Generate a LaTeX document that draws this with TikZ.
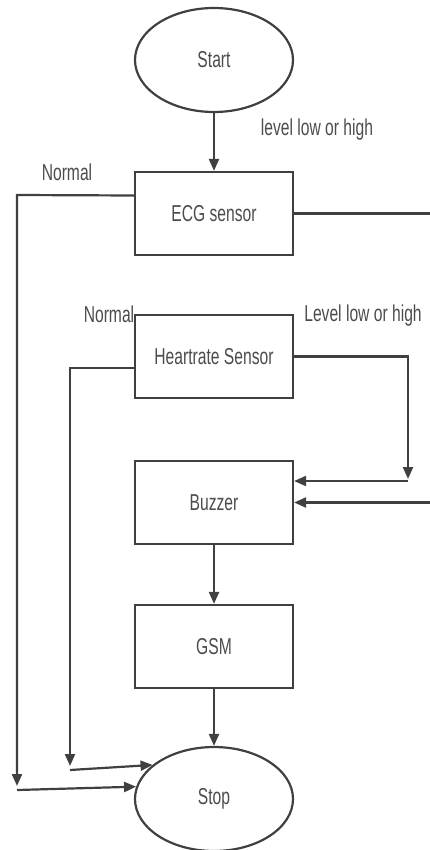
\documentclass[tikz,border=0pt]{standalone}
\usepackage{fontspec}
\setmainfont{Liberation Sans}[FakeStretch=0.68]
\usepackage{tikz}
\usetikzlibrary{shapes.geometric, arrows.meta}

\begin{document}
\begin{tikzpicture}[x=.5pt, y=-.5pt, >={Triangle[length=6pt, width=5pt]},
	every node/.style={font=\fontsize{11.5}{13}\selectfont, text=black!70},
	line/.style={line width=1.1pt, draw=black!75},
	term/.style={ellipse, line, minimum width=79pt, minimum height=52pt, inner sep=0pt},
	block/.style={rectangle, line, minimum width=79pt, minimum height=41.5pt, inner sep=0pt}]
\useasboundingbox (0,0) rectangle (429,850);

% draw the boxes
	\node[term] (start) at (214,60) {Start};
	\node[block] (ecg) at (214,213.5) {ECG sensor};
	\node[block] (heart) at (214,356.5) {Heartrate Sensor};
	\node[block] (buzzer) at (214,502.5) {Buzzer};
	\node[block] (gsm) at (214,646.5) {GSM};
	\node[term] (stop) at (214,799) {Stop};

% draw labels
	\node (lvlA) at (317,130) {level low or high};
	\node (nrmA) at (67,172) {Normal};
	\node (nrmB) at (109,314) {Normal};
	\node (lvlB) at (363,316) {Level low or high};

% draw main flow
	\draw[line, ->] (start) -- (ecg);
	\draw[line, ->] (buzzer) -- (gsm);
	\draw[line, ->] (gsm) -- (stop);

% ECG branches
	\draw[line, ->] ([yshift=9pt]ecg.west) -- (17,195) -- (17,786);
	\draw[line, ->] (17,790) -- (stop.171);
	\draw[line, ->] (ecg.east) -- (440,213.5) -- (440,502.5) -- (buzzer.east);

% heartrate branches
	\draw[line, ->] ([yshift=-5.75pt]heart.west) -- (70,368) -- (70,766);
	\draw[line, ->] (70,770) -- (stop.151);
	\draw[line, ->] (heart.east) -- (408,356.5) -- (408,479);
	\draw[line, ->] (408,481) -- ([yshift=10.75pt]buzzer.east);
\end{tikzpicture}
\end{document}
